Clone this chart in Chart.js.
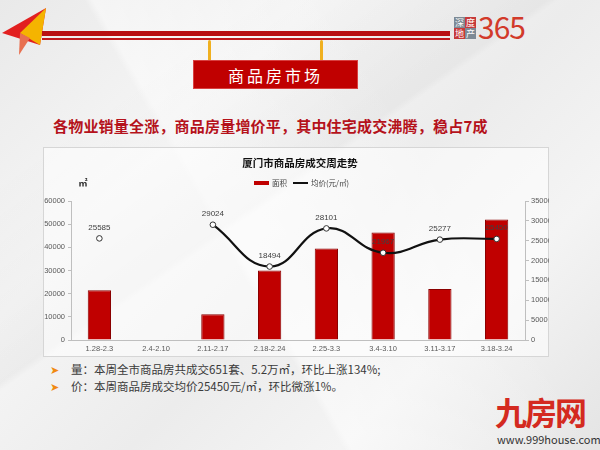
<!DOCTYPE html>
<html><head><meta charset="utf-8">
<script src="https://cdn.jsdelivr.net/npm/chart.js@4/dist/chart.umd.min.js"></script>
<style>
html,body{margin:0;padding:0;}
body{width:600px;height:450px;position:relative;overflow:hidden;font-family:"Noto Sans CJK SC","Noto Sans",sans-serif;
background:linear-gradient(135deg,#e9e9e9 0%,#f6f6f6 30%,#ececec 55%,#f4f4f4 75%,#e4e4e4 100%);}
.poly1{position:absolute;left:0;top:0;width:600px;height:450px;background:linear-gradient(60deg,rgba(255,255,255,0) 40%,rgba(255,255,255,.45) 41%,rgba(255,255,255,0) 70%);}
.poly2{position:absolute;left:0;top:0;width:600px;height:450px;background:linear-gradient(-35deg,rgba(0,0,0,0) 55%,rgba(0,0,0,.03) 56%,rgba(0,0,0,0) 80%);}
.abs{position:absolute;}
#bar1{left:42px;top:31px;width:408px;height:5px;background:#b80f12;}
#bar2{left:42px;top:38px;width:408px;height:1.5px;background:#c0181c;}
#hang{left:193px;top:60px;width:165px;height:29px;background:#c00000;border:1px solid #d84040;box-sizing:border-box;color:#fff;font-size:16px;text-align:center;line-height:28px;letter-spacing:3px;font-family:"Noto Sans CJK SC";}
.cord{width:3px;height:26px;background:#f0b020;border-radius:2px;}
#sub{left:53px;top:115px;font-size:15px;font-weight:bold;color:#b5121b;letter-spacing:0.2px;white-space:nowrap;}
#box{left:43px;top:147px;width:506px;height:210px;border:1px solid #d6d6d6;background:rgba(255,255,255,.55);box-sizing:border-box;}
#wrap{left:43px;top:147px;width:517px;height:211px;}
.bl{left:50px;font-size:11.5px;color:#3a3a3a;white-space:nowrap;}
.bl span{color:#f08a10;margin-right:12px;font-size:11px;}
#logo1{left:495px;top:393px;font-size:32px;color:#d42a20;font-weight:bold;letter-spacing:-2px;line-height:36px;}
#logo2{left:497px;top:431px;font-size:11px;color:#333;}
#l365{left:478px;top:8px;font-size:30px;color:#d23a2a;line-height:36px;letter-spacing:-1px;}
.lg{width:11px;height:11px;font-size:9px;line-height:11px;text-align:center;color:#fff;}
</style></head>
<body>
<div class="poly1"></div><div class="poly2"></div>
<svg class="abs" style="left:0;top:5px" width="50" height="50">
<polygon points="2,28 46,3 40,40" fill="#e22020"/>
<polygon points="20,28 46,3 40,40" fill="#f5b400"/>
<polygon points="20,28 30,33 19,50" fill="#e87050"/>
</svg>
<div id="bar1" class="abs"></div><div id="bar2" class="abs"></div>
<div class="abs lg" style="left:454px;top:17px;background:#7d8a95">深</div>
<div class="abs lg" style="left:465px;top:17px;background:#c63a3a">度</div>
<div class="abs lg" style="left:454px;top:28px;background:#c63a3a">地</div>
<div class="abs lg" style="left:465px;top:28px;background:#7d8a95">产</div>
<div id="l365" class="abs">365</div>
<div class="abs cord" style="left:208px;top:40px"></div>
<div class="abs cord" style="left:320px;top:40px"></div>
<div id="hang" class="abs">商品房市场</div>
<div id="sub" class="abs">各物业销量全涨，商品房量增价平，其中住宅成交沸腾，稳占7成</div>
<div id="box" class="abs"></div>
<div id="wrap" class="abs"><canvas id="c"></canvas></div>
<div class="abs bl" style="top:361px"><span>➤</span>量：本周全市商品房共成交651套、5.2万㎡，环比上涨134%;</div>
<div class="abs bl" style="top:378px"><span>➤</span>价：本周商品房成交均价25450元/㎡，环比微涨1%。</div>
<div id="logo1" class="abs">九房网</div>
<div id="logo2" class="abs">www.999house.com</div>
<script>
const categories = ["1.28-2.3","2.4-2.10","2.11-2.17","2.18-2.24","2.25-3.3","3.4-3.10","3.11-3.17","3.18-3.24"];
const areaValues = [21500, null, 11100, 30000, 39500, 46400, 22000, 52000];
const priceValues = [25585, null, 29024, 18494, 28101, 21967, 25277, 25450];
const leftTicks = [0,10000,20000,30000,40000,50000,60000];
const rightTicks = [0,5000,10000,15000,20000,25000,30000,35000];
const chartTitle = "厦门市商品房成交周走势";
const areaLabel = "面积";
const priceLabel = "均价(元/㎡)";
const unitLabel = "㎡";

const decor = {
  id:'decor',
  afterDraw(chart){
    const ctx = chart.ctx;
    ctx.save();
    const cx = 257;
    ctx.fillStyle = '#111';
    ctx.font = 'bold 10.5px "Noto Sans CJK SC"';
    ctx.textAlign = 'center'; ctx.textBaseline = 'middle';
    ctx.fillText(chartTitle, cx, 16);
    ctx.fillStyle = '#c00000';
    ctx.fillRect(211, 34, 15, 4);
    ctx.fillStyle = '#404040';
    ctx.font = '7.5px "Noto Sans CJK SC"';
    ctx.textAlign = 'left';
    ctx.fillText(areaLabel, 229, 36);
    ctx.strokeStyle = '#111'; ctx.lineWidth = 2;
    ctx.beginPath(); ctx.moveTo(250, 36); ctx.lineTo(265, 36); ctx.stroke();
    ctx.fillText(priceLabel, 268, 36);
    ctx.fillStyle = '#222';
    ctx.font = 'bold 9px "Noto Sans CJK SC"';
    ctx.textAlign = 'center';
    ctx.fillText(unitLabel, 40, 36);
    const meta = chart.getDatasetMeta(1);
    ctx.font = '8px "Liberation Sans"';
    ctx.fillStyle = '#404040';
    meta.data.forEach((p, i) => {
      const v = priceValues[i];
      if (v == null || p.skip) return;
      ctx.fillText(String(v), p.x, p.y - 11);
    });
    ctx.restore();
  }
};

const plain = v => String(v);

new Chart(document.getElementById('c'), {
  type: 'bar',
  data: {
    labels: categories,
    datasets: [
      { type:'bar', label: areaLabel, data: areaValues, yAxisID:'y',
        backgroundColor:'#c00000', borderColor:'#8a0000', borderWidth:1,
        barPercentage:0.41, categoryPercentage:1, order:2 },
      { type:'line', label: priceLabel, data: priceValues, yAxisID:'y1',
        borderColor:'#111', borderWidth:2.2, tension:0.45, spanGaps:false,
        pointRadius:2.8, pointBackgroundColor:'#fff', pointBorderColor:'#333', pointBorderWidth:1, order:1 }
    ]
  },
  options: {
    responsive:true, maintainAspectRatio:false, animation:false,
    layout:{ padding:{ top:54, right:11, left:0, bottom:0 } },
    plugins:{ legend:{display:false}, title:{display:false}, tooltip:{enabled:false} },
    scales:{
      x:{
        grid:{ display:true, drawOnChartArea:false, drawTicks:false, color:'#bfbfbf' },
        border:{ color:'#bfbfbf' },
        ticks:{ font:{size:7.5, family:'Liberation Sans'}, color:'#595959', padding:4, maxRotation:0, autoSkip:false },
        afterFit(s){ s.height = 18; }
      },
      y:{
        position:'left', min:0, max:60000,
        afterBuildTicks(s){ s.ticks = leftTicks.map(v=>({value:v})); },
        grid:{ drawOnChartArea:false, tickLength:3, color:'#bfbfbf' },
        border:{ color:'#bfbfbf' },
        ticks:{ font:{size:7.5, family:'Liberation Sans'}, color:'#595959', padding:3, callback: plain },
        afterFit(s){ s.width = 28; }
      },
      y1:{
        position:'right', min:0, max:35000,
        afterBuildTicks(s){ s.ticks = rightTicks.map(v=>({value:v})); },
        grid:{ drawOnChartArea:false, tickLength:4, color:'#bfbfbf' },
        border:{ color:'#bfbfbf' },
        ticks:{ font:{size:7.5, family:'Liberation Sans'}, color:'#595959', padding:2, callback: plain },
        afterFit(s){ s.width = 24; }
      }
    }
  },
  plugins:[decor]
});
</script>
</body></html>
